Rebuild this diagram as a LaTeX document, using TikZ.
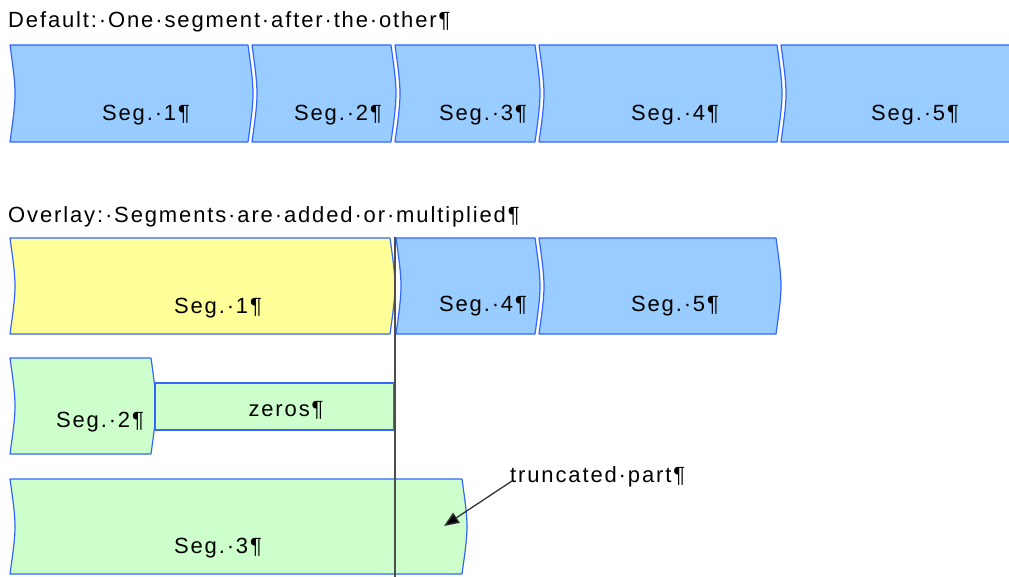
\documentclass[tikz,border=0pt]{standalone}
\usepackage{fontspec}
\setmainfont{Liberation Sans}[LetterSpace=8.5]
\usetikzlibrary{arrows.meta}

\definecolor{segblue}{HTML}{99CCFF}
\definecolor{segyellow}{HTML}{FFFF99}
\definecolor{seggreen}{HTML}{CCFFCC}
\definecolor{segedge}{HTML}{3366FF}
\definecolor{cutline}{HTML}{4D4D4D}
\definecolor{pointer}{HTML}{333333}

\tikzset{
  segbase/.style={draw=segedge, line width=1.2pt, line join=round},
  blueseg/.style={segbase, fill=segblue},
  yellowseg/.style={segbase, fill=segyellow},
  greenseg/.style={segbase, fill=seggreen},
  txt/.style={font=\fontsize{22}{26}\selectfont, inner sep=0pt, text=black},
  segtext/.style={txt, anchor=base},
  heading/.style={txt, anchor=base west},
  cutmark/.style={draw=cutline, line width=1.5pt},
  pointerline/.style={draw=pointer, line width=1.3pt, -{Triangle[length=15pt,width=12pt,fill=black]}},
}

% segment outline: concave left edge, convex right edge
% #1 style, #2 left x, #3 top y, #4 right x, #5 bottom y, #6 bulge
\newcommand\segmentbox[6]{%
  \pgfmathsetmacro\segmid{(#3+#5)/2}%
  \draw[#1] (#2,#3) -- (#4,#3)
    .. controls (#4+1.33*#6,\segmid) .. (#4,#5) -- (#2,#5)
    .. controls (#2+1.33*#6,\segmid) .. (#2,#3) -- cycle;}

\begin{document}
\begin{tikzpicture}[x=1pt,y=-1pt]
\useasboundingbox (0,0) rectangle (1009,577);
\clip (0,0) rectangle (1009,577);

% ---- default mode: segments in sequence ----
\node[heading] (h1) at (8,28) {Default:·One·segment·after·the·other¶};

\segmentbox{blueseg}{10}{45}{248}{142}{5}
\segmentbox{blueseg}{252}{45}{391}{142}{5}
\segmentbox{blueseg}{395}{45}{535}{142}{5}
\segmentbox{blueseg}{539}{45}{777}{142}{5}
\segmentbox{blueseg}{781}{45}{1040}{142}{5}

\node[segtext] (d1) at (146,121) {Seg.·1¶};
\node[segtext] (d2) at (338,121) {Seg.·2¶};
\node[segtext] (d3) at (483,121) {Seg.·3¶};
\node[segtext] (d4) at (675,121) {Seg.·4¶};
\node[segtext] (d5) at (915,121) {Seg.·5¶};

% ---- overlay mode ----
\node[heading] (h2) at (8,223) {Overlay:·Segments·are·added·or·multiplied¶};

\segmentbox{yellowseg}{10}{238}{390}{334}{5}
\segmentbox{blueseg}{396}{238}{535}{334}{5}
\segmentbox{blueseg}{539}{238}{776}{334}{5}

\segmentbox{greenseg}{10}{358}{151}{454}{5}
\draw[greenseg] (155,383) rectangle (394,430);

\segmentbox{greenseg}{10}{479}{462}{574}{5}

\node[segtext] (o1) at (218,313) {Seg.·1¶};
\node[segtext] (o4) at (483,312) {Seg.·4¶};
\node[segtext] (o5) at (675,312) {Seg.·5¶};
\node[segtext] (o2) at (100,427) {Seg.·2¶};
\node[segtext] (oz) at (286,416) {zeros¶};
\node[segtext] (o3) at (218,553) {Seg.·3¶};

% end of the first segment
\draw[cutmark] (395,237) -- (395,577);

% pointer to the cut-off tail of segment 3
\node[heading] (trunc) at (510,482) {truncated·part¶};
\coordinate (tail) at (444,526);
\draw[pointerline] ([shift={(2,-1)}]trunc.base west) -- (tail);
\end{tikzpicture}
\end{document}
